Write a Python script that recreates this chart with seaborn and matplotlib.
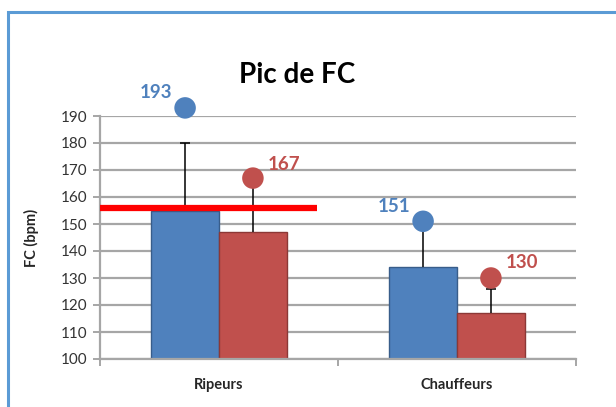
import matplotlib
matplotlib.use("Agg")
import matplotlib.pyplot as plt
from matplotlib.patches import Rectangle
import seaborn as sns
import pandas as pd

# Heart-rate data (bpm)
groups = ["Ripeurs", "Chauffeurs"]
series = ["Moyenne A", "Moyenne B"]
mean_a = [155, 134]
mean_b = [147, 117]
err_a = [25, 17]      # upper error, series A
err_b = [17, 9]       # upper error, series B
peak_a = [193, 151]
peak_b = [167, 130]
threshold = 156
yticks = list(range(100, 200, 10))

colors = ["#4F81BD", "#C0504D"]
edge_colors = ["#385D8A", "#8C3836"]

df = pd.DataFrame({
    "groupe": groups * 2,
    "serie": [series[0]] * 2 + [series[1]] * 2,
    "fc": mean_a + mean_b,
})

sns.set_theme(style="white")
plt.rcParams["font.family"] = ["Lato", "DejaVu Sans"]

fig = plt.figure(figsize=(6.16, 4.07), dpi=100)
fig.patch.set_facecolor("white")
# chart frame
fig.patches.append(Rectangle((8 / 616, -0.05), 1.2, 1 - 12 / 407 + 0.05,
                             transform=fig.transFigure, fill=False,
                             edgecolor="#5B9BD5", linewidth=2.2))

ax = fig.add_axes([100 / 616, 1 - 359 / 407, 476 / 616, 243 / 407])
sns.barplot(data=df, x="groupe", y="fc", hue="serie", order=groups,
            hue_order=series, palette=colors, width=0.57, gap=0,
            saturation=1, legend=False, ax=ax)

bars = ax.patches[:4]
for i, patch in enumerate(bars):
    patch.set_edgecolor(edge_colors[i // 2])
    patch.set_linewidth(1.0)

ax.set_ylim(100, 190)
ax.set_xlim(-0.5, 1.5)
ax.set_yticks(yticks)
ax.yaxis.grid(True, color="#A6A6A6", linewidth=1.6)
ax.set_axisbelow(True)
for s in ["top", "right"]:
    ax.spines[s].set_visible(False)
for s in ["left", "bottom"]:
    ax.spines[s].set_color("#A6A6A6")
    ax.spines[s].set_linewidth(1.6)
ax.set_xticks([-0.5, 0.5, 1.5], minor=True)
ax.tick_params(axis="x", which="minor", length=5, width=1.4, color="#A6A6A6",
               direction="out", bottom=True)
ax.tick_params(axis="x", which="major", length=0, pad=14, labelsize=10.5)
ax.tick_params(axis="y", length=5, width=1.4, color="#A6A6A6", left=True,
               labelsize=11, labelcolor="#333333", pad=4)
for lab in ax.get_xticklabels():
    lab.set_fontweight("bold")
ax.set_xlabel("")
ax.set_ylabel("FC (bpm)", fontsize=10.5, fontweight="bold", labelpad=16)

# error bars (upper only) and peak markers
tops = mean_a + mean_b
errs = err_a + err_b
peaks = peak_a + peak_b
pcols = [colors[0]] * 2 + [colors[1]] * 2
label_pos = [((-9, 11), "right"), ((-9, 11), "right"),
             ((11, 10), "left"), ((11, 11), "left")]
for bar, top, err, pk, col, (off, ha) in zip(bars, tops, errs, peaks, pcols,
                                              label_pos):
    xc = bar.get_x() + bar.get_width() / 2
    ax.vlines(xc, top, top + err, color="black", linewidth=1.1, zorder=3)
    ax.plot([xc], [top + err], marker="_", markersize=7, markeredgewidth=1.1,
            color="black", zorder=3)
    ax.scatter([xc], [pk], s=240, color=col, zorder=4, clip_on=False,
               edgecolors="none")
    ax.annotate(str(pk), (xc, pk), xytext=off, textcoords="offset points",
                fontsize=13.5, fontweight="bold", color=col, ha=ha,
                va="center", annotation_clip=False)

# reference threshold line
ax.plot([-0.5, 0.41], [threshold, threshold], color="#FF0000", linewidth=4.5,
        solid_capstyle="butt", zorder=5, clip_on=False)

fig.text(297 / 616, 1 - 75 / 407, "Pic de FC", ha="center", va="center",
         fontsize=20, fontweight="bold", color="black")

fig.savefig("out.png", dpi=100)
